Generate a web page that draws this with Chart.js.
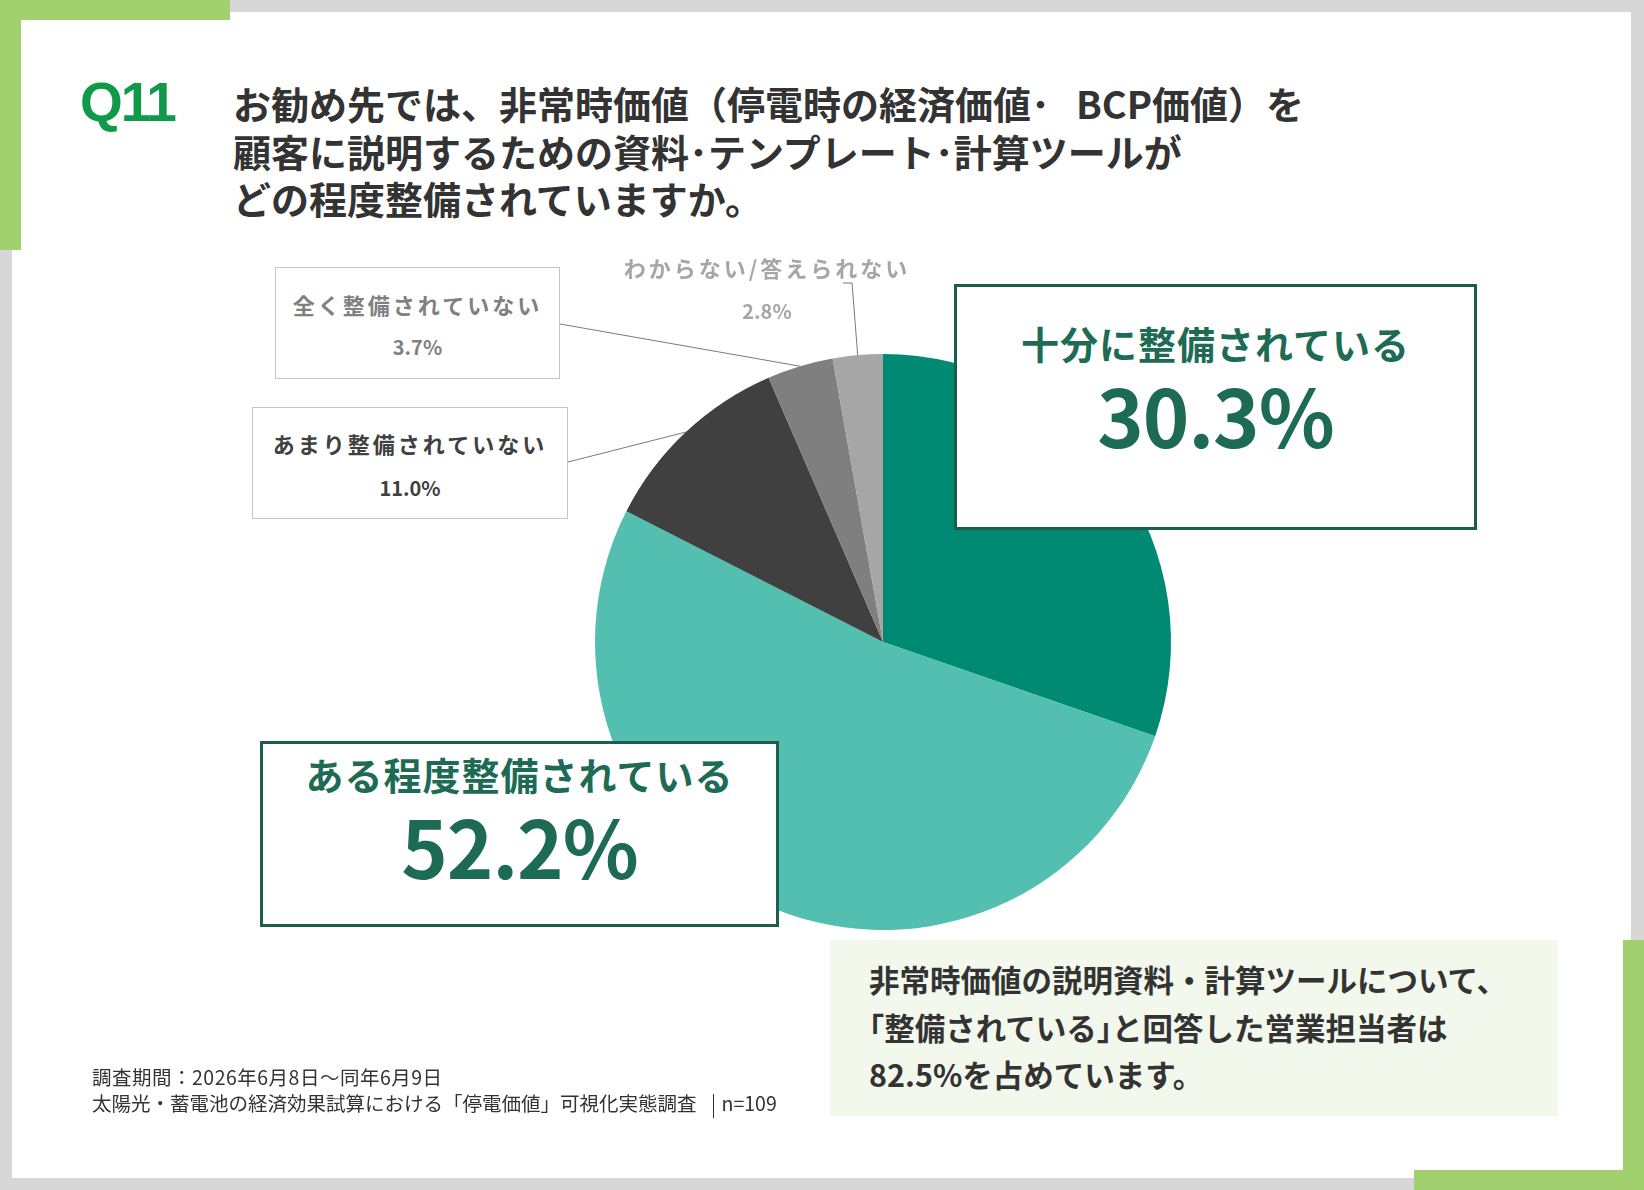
<!DOCTYPE html>
<html lang="ja">
<head>
<meta charset="utf-8">
<script src="https://cdn.jsdelivr.net/npm/chart.js@4.4.1/dist/chart.umd.min.js"></script>
<style>
  html, body { margin:0; padding:0; }
  body { width:1644px; height:1190px; position:relative; overflow:hidden; background:#d7d7d7;
         font-family:"Noto Sans CJK JP","Noto Sans",sans-serif; }
  .abs { position:absolute; }
  #panel { left:12px; top:12px; width:1619px; height:1166px; background:#fff; }
  .green { background:#a3d06f; }
  #chartCanvas { position:absolute; left:0; top:0; }
  .q { left:80px; top:70px; font-family:"Liberation Sans",Arial,sans-serif; font-weight:700; font-size:55px;
       color:#0e9a48; line-height:64px; letter-spacing:-2px; }
  .title { left:233px; top:79px; font-weight:700; font-size:38px; line-height:47.5px; color:#333; white-space:nowrap; }
  .bigbox { background:#fff; border:3px solid #1c5e4b; box-sizing:border-box; }
  .bigbox .t { position:absolute; left:0; right:0; text-align:center; font-weight:700; color:#1e6b55; white-space:nowrap; }
  .smallbox { background:#fff; border:1px solid #c4c4c4; box-sizing:border-box; }
  .smallbox .t, .free .t { position:absolute; left:0; right:0; text-align:center; font-weight:700; white-space:nowrap; }
  .summary { left:830px; top:940px; width:728px; height:176px; background:#f3f8ed; }
  .summary .t { position:absolute; left:39px; top:16px; font-weight:700; font-size:30.5px; line-height:47.5px; color:#333; white-space:nowrap; }
  .footer { left:92px; top:1064px; font-size:19.5px; line-height:26px; color:#333; white-space:nowrap; }
  .sep { display:inline-block; width:1px; height:24px; background:#333; vertical-align:middle; margin:0 8px 0 16px; }
</style>
</head>
<body>
<div id="panel" class="abs"></div>
<div class="abs green" style="left:0;top:0;width:230px;height:20px"></div>
<div class="abs green" style="left:0;top:0;width:21px;height:250px"></div>
<div class="abs green" style="left:1623px;top:940px;width:21px;height:250px"></div>
<div class="abs green" style="left:1414px;top:1170px;width:230px;height:20px"></div>

<div class="abs q">Q11</div>
<div class="abs title">お勧め先では、非常時価値（停電時の経済価値･&nbsp;&nbsp;&nbsp;BCP価値）を<br>顧客に説明するための資料･テンプレート･計算ツールが<br>どの程度整備されていますか。</div>

<canvas id="chartCanvas" width="1644" height="1190"></canvas>

<div id="labels"></div>

<div class="abs summary"><div class="t">非常時価値の説明資料・計算ツールについて、<br>｢整備されている｣と回答した営業担当者は<br>82.5%を占めています。</div></div>

<div class="abs footer"><span style="letter-spacing:0.5px">調査期間：2026年6月8日～同年6月9日</span><br>太陽光・蓄電池の経済効果試算における「停電価値」可視化実態調査<span class="sep"></span>n=109</div>

<script>
// ---- data ----
const categories = ["十分に整備されている", "ある程度整備されている", "あまり整備されていない", "全く整備されていない", "わからない/答えられない"];
const values = [30.3, 52.2, 11.0, 3.7, 2.8];
const colors = ["#008a73", "#52bfb0", "#404040", "#7f7f7f", "#a6a6a6"];
const labelColors = ["#1e6b55", "#1e6b55", "#404040", "#808080", "#a6a6a6"];
const pct = v => v.toFixed(1) + "%";

// ---- label boxes (layout) ----
const labelLayout = [
  { kind:"big",   left:954, top:284, w:523, h:246, y1:56, y2:127, f1:38, f2:79, anchor:null },
  { kind:"big",   left:260, top:741, w:519, h:186, y1:30, y2:101, f1:38, f2:79, anchor:null },
  { kind:"small", left:252, top:407, w:316, h:112, y1:35, y2:80, anchor:[568,462] },
  { kind:"small", left:275, top:267, w:285, h:112, y1:36, y2:79, anchor:[560,324] },
  { kind:"free",  left:617, top:245, w:300, h:90,  y1:22, y2:66, anchor:[843,283], elbow:[852,283] }
];
const host = document.getElementById("labels");
labelLayout.forEach((L, i) => {
  const d = document.createElement("div");
  d.className = "abs " + (L.kind === "big" ? "bigbox" : L.kind === "small" ? "smallbox" : "free");
  d.style.cssText = `left:${L.left}px;top:${L.top}px;width:${L.w}px;height:${L.h}px;`;
  const mk = (txt, cy, fs, ls) => {
    const t = document.createElement("div");
    t.className = "t";
    const lh = fs * 1.3;
    t.style.cssText = `top:${cy - lh/2}px;font-size:${fs}px;line-height:${lh}px;letter-spacing:${ls}px;color:${labelColors[i]};`;
    t.textContent = txt;
    d.appendChild(t);
  };
  if (L.kind === "big") {
    mk(categories[i], L.y1, L.f1, 1);
    mk(pct(values[i]), L.y2, L.f2, -1);
  } else {
    mk(categories[i], L.y1, 22, 3);
    mk(pct(values[i]), L.y2, 20, 0);
  }
  host.appendChild(d);
});

// ---- leader lines plugin ----
const leaderPlugin = {
  id: "leaders",
  afterDatasetsDraw(chart) {
    const ctx = chart.ctx;
    const arcs = chart.getDatasetMeta(0).data;
    ctx.save();
    ctx.strokeStyle = "#7a7a7a";
    ctx.lineWidth = 1;
    labelLayout.forEach((L, i) => {
      if (!L.anchor) return;
      const a = arcs[i];
      const p = a.getProps(["x","y","startAngle","endAngle","outerRadius"], true);
      const mid = (p.startAngle + p.endAngle) / 2;
      const ex = p.x + Math.cos(mid) * p.outerRadius;
      const ey = p.y + Math.sin(mid) * p.outerRadius;
      ctx.beginPath();
      ctx.moveTo(L.anchor[0], L.anchor[1]);
      if (L.elbow) ctx.lineTo(L.elbow[0], L.elbow[1]);
      ctx.lineTo(ex, ey);
      ctx.stroke();
    });
    ctx.restore();
  }
};

new Chart(document.getElementById("chartCanvas"), {
  type: "pie",
  data: {
    labels: categories,
    datasets: [{ data: values, backgroundColor: colors, borderWidth: 0, hoverOffset: 0 }]
  },
  options: {
    responsive: false,
    devicePixelRatio: 1,
    animation: false,
    rotation: 0,
    layout: { padding: { left: 595, right: 473, top: 354, bottom: 260 } },
    plugins: { legend: { display: false }, tooltip: { enabled: false } }
  },
  plugins: [leaderPlugin]
});
</script>
</body>
</html>
